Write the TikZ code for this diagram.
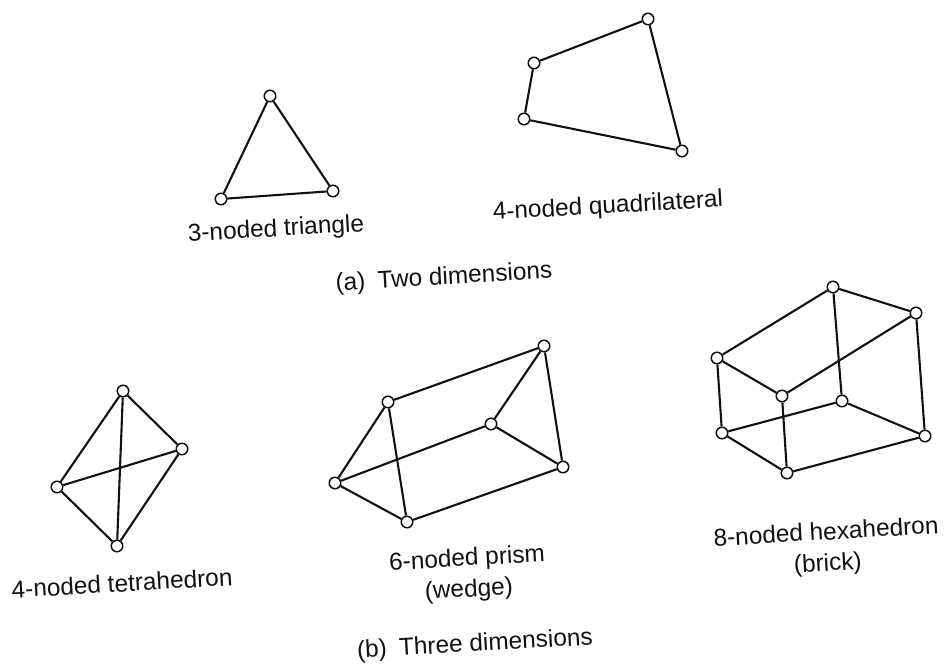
\documentclass[tikz,border=0pt]{standalone}
\usepackage{fontspec}
\setmainfont{Liberation Sans}
\usepackage{xcolor}
\usepackage{tikz}
\definecolor{ink}{HTML}{111111}
\tikzset{
  vertex/.style={circle, draw=ink, fill=white, line width=1.5pt, minimum size=11.5pt, inner sep=0pt},
  edge/.style={draw=ink, line width=2.1pt},
  caption/.style={text=ink, inner sep=0pt, align=center, rotate=3.3, font=\fontsize{24.4}{31}\selectfont}
}

\begin{document}
\begin{tikzpicture}[x=1pt, y=-1pt]
  \useasboundingbox (0,0) rectangle (944,665);

  % triangle
  \node[vertex] (triTop) at (270,96) {};
  \node[vertex] (triLeft) at (221,199) {};
  \node[vertex] (triRight) at (333,191) {};
  \draw[edge] (triTop) -- (triLeft) -- (triRight) -- (triTop);
  \node[caption] (triText) at (276,230) {3-noded triangle};

  % quadrilateral
  \node[vertex] (quadTop) at (648,19) {};
  \node[vertex] (quadUpper) at (534,63) {};
  \node[vertex] (quadLower) at (524,119) {};
  \node[vertex] (quadRight) at (682,151) {};
  \draw[edge] (quadTop) -- (quadUpper) -- (quadLower) -- (quadRight) -- (quadTop);
  \node[caption] (quadText) at (608,207) {4-noded quadrilateral};

  \node[caption] (twoText) at (444,278) {(a)\enspace Two dimensions};

  % tetrahedron
  \node[vertex] (tetTop) at (123,391) {};
  \node[vertex] (tetRight) at (182,449) {};
  \node[vertex] (tetLeft) at (57,487) {};
  \node[vertex] (tetBottom) at (117,546) {};
  \draw[edge] (tetTop) -- (tetLeft) -- (tetBottom) -- (tetRight) -- (tetTop);
  \draw[edge] (tetTop) -- (tetBottom);
  \draw[edge] (tetLeft) -- (tetRight);
  \node[caption] (tetText) at (122,583) {4-noded tetrahedron};

  % prism
  \node[vertex] (priA) at (388,402) {};
  \node[vertex] (priB) at (335,483) {};
  \node[vertex] (priC) at (407,522) {};
  \node[vertex] (priD) at (544,346) {};
  \node[vertex] (priE) at (491,424) {};
  \node[vertex] (priF) at (563,467) {};
  \draw[edge] (priA) -- (priB) -- (priC) -- (priA);
  \draw[edge] (priD) -- (priE) -- (priF) -- (priD);
  \draw[edge] (priA) -- (priD);
  \draw[edge] (priB) -- (priE);
  \draw[edge] (priC) -- (priF);
  \node[caption] (priText) at (468,575) {6-noded prism\\(wedge)};

  % brick
  \node[vertex] (brkTop) at (833,287) {};
  \node[vertex] (brkBack) at (916,313) {};
  \node[vertex] (brkLeft) at (717,358) {};
  \node[vertex] (brkFront) at (782,396) {};
  \node[vertex] (brkTopLow) at (842,401) {};
  \node[vertex] (brkBackLow) at (925,436) {};
  \node[vertex] (brkLeftLow) at (722,433) {};
  \node[vertex] (brkFrontLow) at (787,473) {};
  \draw[edge] (brkLeft) -- (brkTop) -- (brkBack) -- (brkFront) -- (brkLeft);
  \draw[edge] (brkLeftLow) -- (brkTopLow) -- (brkBackLow) -- (brkFrontLow) -- (brkLeftLow);
  \draw[edge] (brkLeft) -- (brkLeftLow);
  \draw[edge] (brkFront) -- (brkFrontLow);
  \draw[edge] (brkTop) -- (brkTopLow);
  \draw[edge] (brkBack) -- (brkBackLow);
  \node[caption] (brkText) at (827,549) {8-noded hexahedron\\(brick)};

  \node[caption] (threeText) at (475,645) {(b)\enspace Three dimensions};
\end{tikzpicture}
\end{document}
